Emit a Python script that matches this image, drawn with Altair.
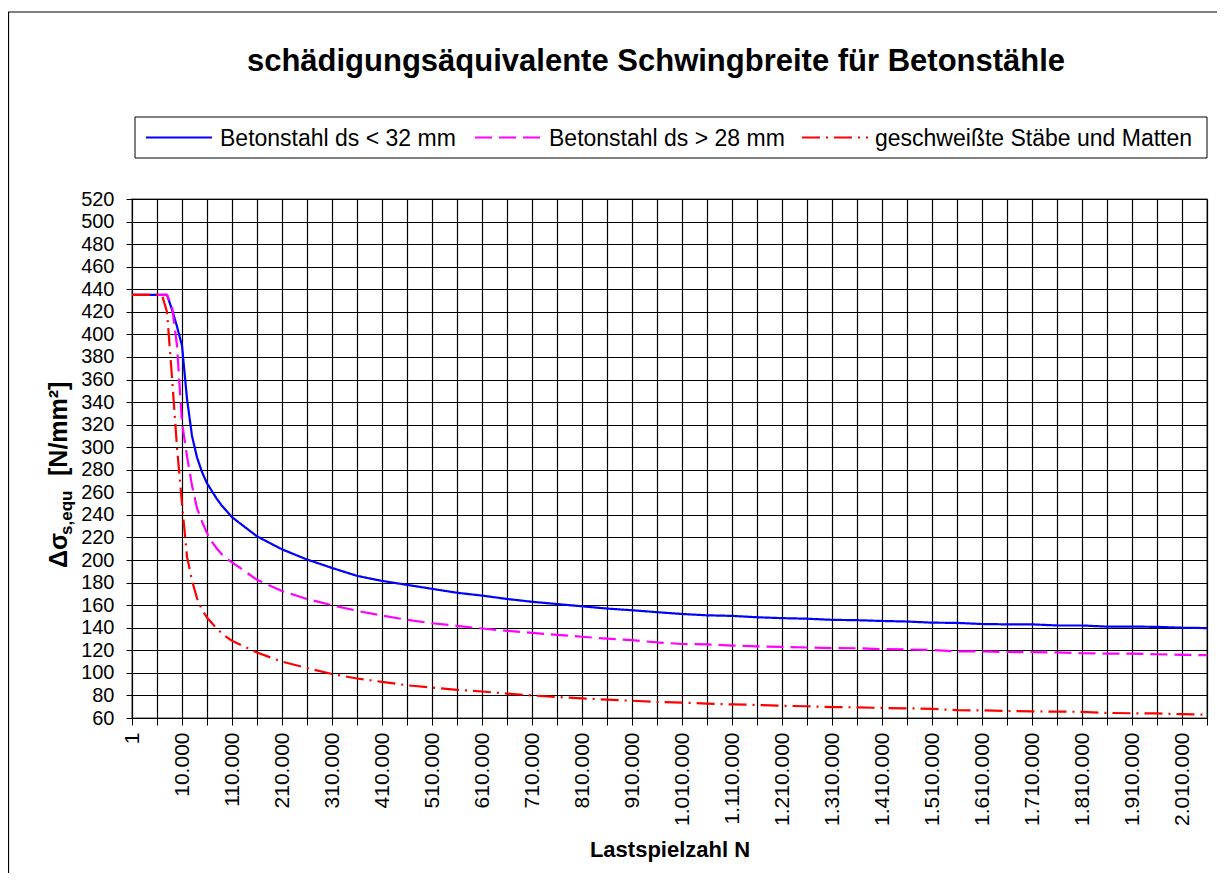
import altair as alt
import pandas as pd

TITLE = "schädigungsäquivalente Schwingbreite für Betonstähle"
X_TITLE = "Lastspielzahl N"
SERIES = ["Betonstahl ds < 32 mm", "Betonstahl ds > 28 mm", "geschweißte Stäbe und Matten"]
COLORS = ["#0000FF", "#FF00FF", "#FF0000"]
DASHES = [[1, 0], [17, 7], [18, 6, 2, 6]]

Y_TICKS = list(range(60, 521, 20))

# Excel category axis: 1, 1.000 ... 9.000, then 10.000 ... 2.060.000
CAT_NUM = [1] + list(range(1000, 10000, 1000)) + list(range(10000, 2070000, 10000))


def de(n):
    return f"{n:,}".replace(",", ".")


CATS = [de(n) for n in CAT_NUM]
TICK_CATS = CATS[::5]
LABEL_CATS = CATS[::10]

N_POINTS = [1, 1000, 2000, 3000, 4000, 5000, 6000, 7000, 8000, 9000,
            10000, 20000, 30000, 40000, 50000, 60000, 70000, 80000, 90000, 100000, 110000,
            160000, 210000, 260000, 310000, 360000, 410000, 460000, 510000, 560000, 610000,
            660000, 710000, 760000, 810000, 860000, 910000, 960000, 1010000, 1060000, 1110000,
            1160000, 1210000, 1260000, 1310000, 1360000, 1410000, 1460000, 1510000, 1560000,
            1610000, 1660000, 1710000, 1760000, 1810000, 1860000, 1910000, 1960000, 2010000,
            2060000]

BLUE = [435, 435, 435, 435, 435, 435, 435, 435, 422, 407,
        390, 343, 310, 291, 278, 268, 261, 254, 248, 243, 238,
        221, 209.5, 200.5, 193, 186, 181.5, 178, 174.5, 171, 168.5,
        165.5, 163, 161, 159, 157, 155.5, 153.8, 152.2, 151, 150.5,
        149.3, 148.5, 148, 147, 146.7, 146, 145.5, 144.5, 144.3,
        143.3, 143, 143, 142, 142, 141, 141, 140.8, 140, 139.7]

MAGENTA = [435, 435, 435, 435, 435, 435, 435, 435, 425, 390,
           322, 292, 266, 246, 234, 224, 216, 210, 205, 201, 198,
           182.5, 172.5, 165.5, 160, 155, 150.8, 147, 144, 141.7, 139.3,
           137.3, 135.5, 133.7, 132, 130.3, 129, 127, 125.6, 125.3, 124.2,
           123.5, 123, 122.5, 122, 121.8, 121, 120.8, 120.2, 119,
           119, 118.5, 118.3, 118.2, 117.4, 117.1, 117, 116.5, 116, 115.7]

RED = [435, 435, 435, 435, 435, 435, 435, 420, 362, 300,
       250, 203, 182, 166, 156, 149, 144, 139, 135, 131.5, 128.5,
       118, 110, 104.3, 99, 95, 92, 89, 87, 85, 83.5,
       81.6, 80, 78.6, 77.4, 76.3, 75.3, 74.3, 73.7, 72.8, 72,
       71.6, 70.8, 70.4, 69.6, 69.5, 68.9, 68.6, 68.1, 66.9,
       66.8, 66.2, 65.9, 65.6, 65.5, 64.5, 64.2, 64.1, 63.4, 63]

VALUES = [BLUE, MAGENTA, RED]

FONT = "Liberation Sans"
W, H = 1075, 519

one = pd.DataFrame({"k": [0]})

label_expr = "indexof(" + str(LABEL_CATS) + ", datum.value) >= 0 ? datum.value : ''"

x_enc = alt.X(
    "N:O",
    scale=alt.Scale(type="point", domain=CATS, padding=0),
    axis=alt.Axis(
        values=TICK_CATS,
        labelExpr=label_expr,
        labelAngle=270,
        labelOverlap=False,
        labelFontSize=21,
        tickSize=7,
        labelPadding=7,
        grid=True,
        title=X_TITLE,
        titleFontSize=22,
        titleFontWeight="bold",
        titleY=131,
        titleBaseline="middle",
        titleFont=FONT,
    ),
)
y_enc = alt.Y(
    "v:Q",
    scale=alt.Scale(domain=[60, 520], nice=False, zero=False),
    axis=alt.Axis(values=Y_TICKS, tickSize=6, labelPadding=12, grid=True, title=None),
)

layers = []
for i, (name, vals) in enumerate(zip(SERIES, VALUES)):
    df = pd.DataFrame({"N": [de(n) for n in N_POINTS], "v": vals, "series": name})
    lyr = alt.Chart(df).mark_line(
        color=COLORS[i], strokeDash=DASHES[i], strokeWidth=2.2, clip=True
    ).encode(x=x_enc, y=y_enc)
    layers.append(lyr)

# outer chart border (right/bottom edges fall outside the page, as in the original)
border = alt.Chart(one).mark_rect(fill=None, stroke="black", strokeWidth=1.2).encode(
    x=alt.value(-123.5), x2=alt.value(W + 40), y=alt.value(-187), y2=alt.value(H + 300)
)

title = alt.Chart(one).mark_text(
    font=FONT, fontSize=31, fontWeight="bold", align="center", baseline="middle", color="black"
).encode(x=alt.value(524), y=alt.value(-137), text=alt.value(TITLE))

# legend
leg_box = alt.Chart(one).mark_rect(fill="white", stroke="black", strokeWidth=1).encode(
    x=alt.value(3), x2=alt.value(W), y=alt.value(-82), y2=alt.value(-41)
)
LEG_SYM_X = [14, 343, 670]
LEG_TXT_X = [88, 417, 743]
LEG_Y = -61.5
leg = [leg_box]
for i, name in enumerate(SERIES):
    leg.append(
        alt.Chart(one).mark_rule(color=COLORS[i], strokeDash=DASHES[i], strokeWidth=2.2).encode(
            x=alt.value(LEG_SYM_X[i]), x2=alt.value(LEG_SYM_X[i] + 66), y=alt.value(LEG_Y)
        )
    )
    leg.append(
        alt.Chart(one).mark_text(
            font=FONT, fontSize=23, align="left", baseline="middle", color="black"
        ).encode(x=alt.value(LEG_TXT_X[i]), y=alt.value(LEG_Y + 1), text=alt.value(name))
    )

# y-axis title with subscript
ytitle = [
    alt.Chart(one).mark_text(font=FONT, fontSize=25, fontWeight="bold", angle=270,
                             align="left", baseline="alphabetic", color="black")
    .encode(x=alt.value(-65), y=alt.value(369), text=alt.value("Δσ")),
    alt.Chart(one).mark_text(font=FONT, fontSize=17, fontWeight="bold", angle=270,
                             align="left", baseline="alphabetic", color="black")
    .encode(x=alt.value(-60), y=alt.value(336), text=alt.value("s,equ")),
    alt.Chart(one).mark_text(font=FONT, fontSize=25, fontWeight="bold", angle=270,
                             align="left", baseline="alphabetic", color="black")
    .encode(x=alt.value(-65), y=alt.value(277), text=alt.value("[N/mm²]")),
]

chart = alt.layer(border, title, *leg, *ytitle, *layers).properties(
    width=W,
    height=H,
    autosize=alt.AutoSizeParams(type="none"),
    padding={"left": 124, "top": 191, "right": 10, "bottom": 155},
    background="white",
).configure_view(
    stroke="#808080", strokeWidth=1.5
).configure_axis(
    domainColor="black",
    tickColor="black",
    gridColor="black",
    gridOpacity=1,
    gridWidth=1.2,
    labelColor="black",
    labelFont=FONT,
    labelFontSize=20,
    titleColor="black",
)

chart.save("out.html", embed_options={"renderer": "svg", "actions": False})
